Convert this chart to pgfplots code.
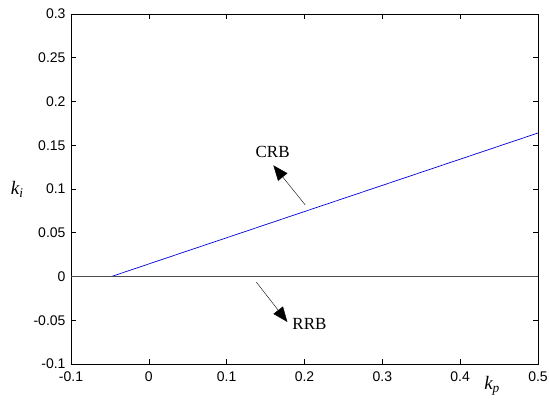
\documentclass[border=0pt]{standalone}
\usepackage{fontspec}
\setmainfont{Liberation Sans}
\newfontfamily\tnr{Liberation Serif}
\usepackage{pgfplots}
\pgfplotsset{compat=1.18}
\usetikzlibrary{arrows.meta}

\begin{document}
\begin{tikzpicture}
  \begin{axis}[
    scale only axis,
    width=467pt, height=350pt,
    xmin=-0.1, xmax=0.5, ymin=-0.1, ymax=0.3,
    xtick={-0.1,0,...,0.5}, ytick={-0.1,-0.05,...,0.3},
    tick align=inside, major tick length=5pt,
    tick style={black, line width=0.6pt},
    axis line style={line width=0.7pt},
    /pgf/number format/assume math mode=true,
    ticklabel style={font=\fontsize{14}{15}\selectfont},
    yticklabel style={/pgf/number format/fixed, /pgf/number format/precision=2, xshift=-2pt},
    xticklabel style={/pgf/number format/fixed, yshift=-4pt},
    clip=false,
  ]
    % CRB boundary
    \addplot[blue!85!black, line width=0.7pt] coordinates {(-0.048,0) (0.5,0.164)};
    % RRB boundary (ki = 0)
    \addplot[black!70, line width=0.7pt] coordinates {(-0.1,0) (0.5,0)};

    \draw[-{Triangle[length=15pt,width=12pt]}, line width=0.4pt]
      (axis cs:0.201,0.0817) -- (axis cs:0.160,0.127);
    \node[font=\tnr\fontsize{17}{19}\selectfont] at (axis cs:0.159,0.1425) {CRB};
    \draw[-{Triangle[length=15pt,width=12pt]}, line width=0.4pt]
      (axis cs:0.138,-0.0063) -- (axis cs:0.178,-0.052);
    \node[font=\tnr\fontsize{17}{19}\selectfont, anchor=west] at (axis cs:0.18,-0.054) {RRB};

    \node[font=\tnr\fontsize{19}{21}\selectfont] at (axis cs:-0.169,0.1)
      {\itshape k\textsubscript{i}};
    \node[font=\tnr\fontsize{19}{21}\selectfont] at (axis cs:0.441,-0.125)
      {\itshape k\textsubscript{p}};

    \coordinate (bl) at (rel axis cs:0,0);
    \coordinate (tr) at (rel axis cs:1,1);
  \end{axis}
  \pgfresetboundingbox
  \path ([shift={(-71pt,-39pt)}]bl) rectangle ([shift={(11pt,14pt)}]tr);
\end{tikzpicture}
\end{document}
